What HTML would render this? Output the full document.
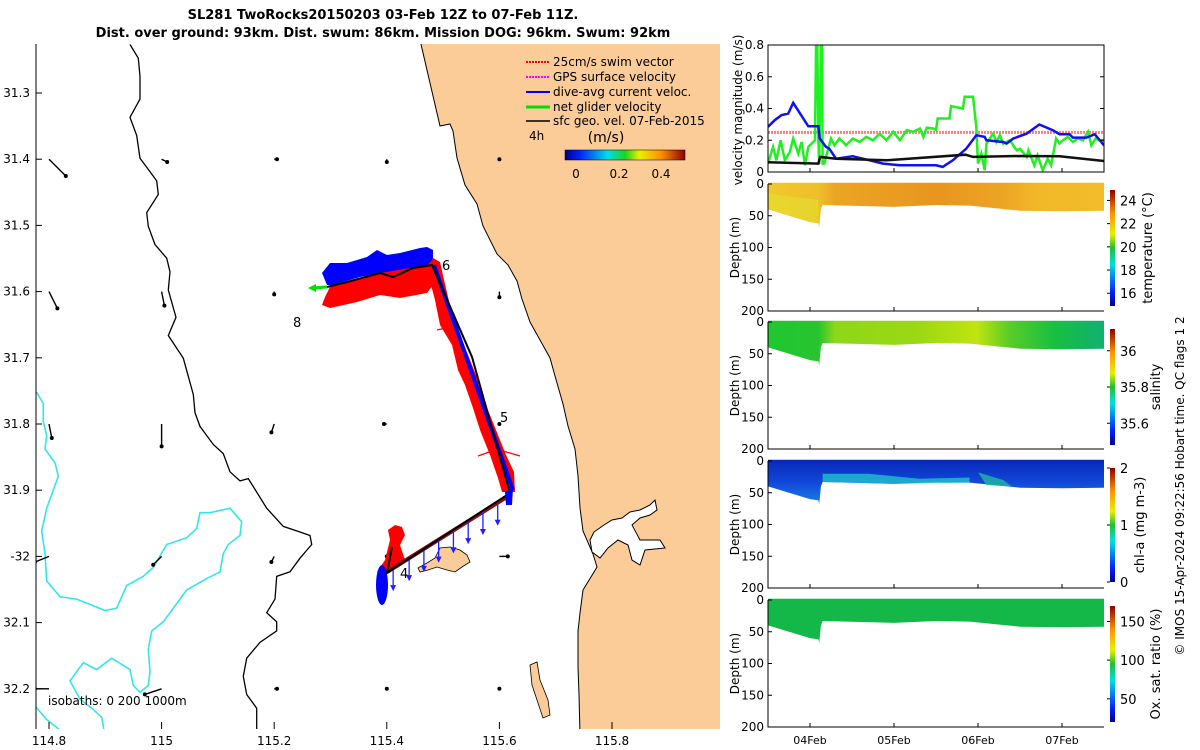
<!DOCTYPE html>
<html><head><meta charset="utf-8"><style>
html,body{margin:0;padding:0;background:#fff;}
svg{display:block;font-family:"DejaVu Sans","Liberation Sans",sans-serif;}
</style></head><body>
<svg id="fig" width="1200" height="750" viewBox="0 0 1200 750" xmlns="http://www.w3.org/2000/svg">
<defs>
<clipPath id="mapclip"><rect x="36" y="44" width="684" height="685"/></clipPath>
<clipPath id="velclip"><rect x="768" y="45" width="336" height="127"/></clipPath>
<linearGradient id="jet" x1="0" x2="1" y1="0" y2="0">
<stop offset="0" stop-color="#00008f"/><stop offset="0.12" stop-color="#0020ff"/><stop offset="0.36" stop-color="#00e0e0"/><stop offset="0.5" stop-color="#20d020"/><stop offset="0.62" stop-color="#e8f000"/><stop offset="0.8" stop-color="#ff9000"/><stop offset="1" stop-color="#8f0000"/></linearGradient>
<linearGradient id="jetv" x1="0" x2="0" y1="1" y2="0">
<stop offset="0" stop-color="#00008f"/><stop offset="0.12" stop-color="#0020ff"/><stop offset="0.36" stop-color="#00e0e0"/><stop offset="0.5" stop-color="#20c030"/><stop offset="0.62" stop-color="#e8f000"/><stop offset="0.8" stop-color="#ff9000"/><stop offset="1" stop-color="#8f0000"/></linearGradient>
<linearGradient id="gTemp" x1="0" x2="1" y1="0" y2="0"><stop offset="0" stop-color="#f0c82c"/><stop offset="0.15" stop-color="#eec02a"/><stop offset="0.2" stop-color="#eca424"/><stop offset="0.5" stop-color="#e8961e"/><stop offset="0.7" stop-color="#eca424"/><stop offset="0.8" stop-color="#f2b828"/><stop offset="1" stop-color="#f2bc2a"/></linearGradient>
<linearGradient id="gSal" x1="0" x2="1" y1="0" y2="0"><stop offset="0" stop-color="#20c830"/><stop offset="0.15" stop-color="#28c430"/><stop offset="0.2" stop-color="#8cd818"/><stop offset="0.45" stop-color="#9cd814"/><stop offset="0.62" stop-color="#c0e410"/><stop offset="0.72" stop-color="#58cc28"/><stop offset="0.85" stop-color="#18c040"/><stop offset="1" stop-color="#10b070"/></linearGradient>
<linearGradient id="gChl" x1="0" x2="0" y1="0" y2="1"><stop offset="0" stop-color="#0828b8"/><stop offset="0.5" stop-color="#1048d8"/><stop offset="1" stop-color="#1880e8"/></linearGradient>
</defs>
<rect x="0" y="0" width="1200" height="750" fill="#fff"/>
<text x="383" y="19" text-anchor="middle" font-size="13" font-weight="bold">SL281 TwoRocks20150203 03-Feb 12Z to 07-Feb 11Z.</text>
<text x="383" y="37" text-anchor="middle" font-size="13" font-weight="bold">Dist. over ground: 93km. Dist. swum: 86km. Mission DOG: 96km. Swum: 92km</text>

<g id="map" clip-path="url(#mapclip)">
<polygon fill="#fbcb98" stroke="#000" stroke-width="1" points="420,40 440,126 450,124 453,131 457,158 465,185 477,204 483,226 497,254 508,265 517,281 522,299 530,322 540,340 550,358 555,376 563,404 568,426 575,449 578,476 580,508 583,531 593,554 597,567 583,590 580,613 578,631 578,667 579,695 580,735 725,735 725,40"/>
<polygon fill="#fff" stroke="#000" stroke-width="1" points="594,532 604,525 612,520 622,518 630,512 640,510 650,505 655,500 657,510 650,515 640,518 632,525 640,540 660,540 665,548 645,550 640,565 632,560 628,545 618,540 608,548 600,558 592,552 590,540"/>
<polygon fill="#fbcb98" stroke="#000" stroke-width="0.8" points="418,568 427,563 435,558 440,548 450,547 460,550 467,555 470,562 462,567 455,572 447,570 437,567 428,570 420,572"/>
<polygon fill="#fbcb98" stroke="#000" stroke-width="0.8" points="530,665 537,662 540,680 548,700 550,715 543,718 537,700 532,685"/>
<polyline id="iso200" fill="none" stroke="#000" stroke-width="1.3"/>
<polyline id="iso1000a" fill="none" stroke="#33e6e6" stroke-width="1.6"/>
<polyline id="iso1000b" fill="none" stroke="#33e6e6" stroke-width="1.6"/>
<g id="quiver"></g>
<polygon fill="#0000ff" points="322,273 330,263 347,263 367,257 377,250 387,255 400,253 420,248 427,247 433,250 433,265 413,268 393,275 380,273 360,277 333,285 327,285"/>
<polygon fill="#ff0000" points="330,287 380,273 427,265 433,260 437,280 427,293 400,298 380,295 357,302 330,308 322,305 325,297"/>
<polygon fill="#ff0000" points="433,258 427,270 435,300 440,325 452,345 458,370 465,385 473,408 480,430 490,455 498,478 502,492 515,492 514,472 506,455 498,435 488,410 480,385 470,360 460,335 450,305 444,280 440,262"/>
<line x1="450" y1="327" x2="437" y2="330" stroke="#ff0000" stroke-width="1.2"/>
<line x1="495" y1="450" x2="478" y2="456" stroke="#ff0000" stroke-width="1.2"/>
<line x1="500" y1="450" x2="520" y2="456" stroke="#ff0000" stroke-width="1.2"/>
<polygon fill="#ff0000" points="377,572 385,560 390,540 388,530 395,525 402,527 405,535 400,545 405,560 395,565 388,572"/>
<ellipse cx="382" cy="585" rx="6" ry="20" fill="#0000ff"/>
<line x1="387" y1="572" x2="510" y2="495" stroke="#8b1010" stroke-width="4"/>
<g id="blueArrows"></g>
<line x1="434" y1="265" x2="513" y2="490" stroke="#0000ff" stroke-width="4"/>
<polyline fill="none" stroke="#000" stroke-width="2" points="327,287 347,282 380,273 393,277 413,268 432,265 472,357 510,493 387,573 392,547"/>
<polygon fill="#0000ff" points="505,492 513,488 512,505 506,505"/>
<line x1="327" y1="287" x2="312" y2="288" stroke="#00e000" stroke-width="3"/>
<polygon fill="#00e000" points="308,288 316,284 316,292"/>
<text x="442" y="270" font-size="13">6</text>
<text x="500" y="422" font-size="13">5</text>
<text x="400" y="578" font-size="13">4</text>
<text x="293" y="327" font-size="13">8</text>
<text x="48" y="705" font-size="12">isobaths: 0   200  1000m</text>
</g>
<g font-size="12">
<g><line x1="526" y1="62" x2="550" y2="62" stroke="#ff0000" stroke-width="2" stroke-dasharray="2,1"/><text x="553" y="66">25cm/s swim vector</text></g>
<g><line x1="526" y1="77" x2="550" y2="77" stroke="#ff00ff" stroke-width="2" stroke-dasharray="2,1"/><text x="553" y="81">GPS surface velocity</text></g>
<g><line x1="526" y1="92" x2="550" y2="92" stroke="#0000ff" stroke-width="2"/><text x="553" y="96">dive-avg current veloc.</text></g>
<g><line x1="526" y1="107" x2="550" y2="107" stroke="#00e000" stroke-width="3"/><text x="553" y="111">net glider velocity</text></g>
<g><line x1="526" y1="121" x2="550" y2="121" stroke="#000" stroke-width="1.5"/><text x="553" y="125">sfc geo. vel. 07-Feb-2015</text></g>
<text x="529" y="140">4h</text>
<text x="606" y="142" text-anchor="middle" font-size="14">(m/s)</text>
<rect x="565" y="150" width="120" height="10" fill="url(#jet)" stroke="#000" stroke-width="0.5"/>
<text x="576" y="178" text-anchor="middle">0</text>
<text x="619" y="178" text-anchor="middle">0.2</text>
<text x="661" y="178" text-anchor="middle">0.4</text>
</g>
<line x1="36" y1="44" x2="36" y2="729" stroke="#000"/>
<g id="mapTicks" font-size="12"></g>

<g id="velPanel">
<line id="swimLine" x1="768" x2="1104" stroke="#ff6060" stroke-width="3" stroke-dasharray="2,1" opacity="0.8"/>
<g clip-path="url(#velclip)">
<polyline id="greenLine" fill="none" stroke="#20f020" stroke-width="2.5"/>
<polyline id="blueLine" fill="none" stroke="#1010f0" stroke-width="2.5"/>
<polyline id="blackLine" fill="none" stroke="#111" stroke-width="2.5"/>
</g>
<rect x="768" y="45" width="336" height="127" fill="none" stroke="#000"/>
<text transform="translate(742,110) rotate(-90)" text-anchor="middle" font-size="12">velocity magnitude (m/s)</text>
</g>
<g id="sections"></g>
<g id="rightTicks" font-size="12"></g>
<text transform="translate(1184,486) rotate(-90)" text-anchor="middle" font-size="12">© IMOS 15-Apr-2024 09:22:56 Hobart time. QC flags 1  2</text>
</svg>
<script>
const iso200 = [[300,10],[325,40],[330,80],[330,130],[300,170],[320,210],[330,260],[350,280],[380,310],[385,340],[350,380],[355,410],[375,450],[410,480],[420,510],[415,550],[438,610],[415,650],[460,700],[490,780],[495,820],[510,850],[550,890],[580,910],[600,950],[630,970],[655,965],[710,1030],[760,1070],[800,1080],[840,1090],[845,1110],[810,1140],[780,1170],[740,1180],[735,1230],[710,1260],[740,1280],[740,1300],[690,1325],[650,1360],[640,1400],[650,1440],[680,1470],[680,1530]];
const iso1000a = [[20,775],[40,800],[40,840],[50,870],[45,900],[75,930],[85,960],[70,990],[50,1030],[35,1080],[45,1130],[50,1190],[90,1225],[140,1230],[225,1255],[260,1250],[290,1200],[340,1180],[370,1160],[410,1110],[470,1095],[500,1075],[510,1040],[540,1040],[600,1030],[635,1060],[630,1090],[595,1110],[580,1130],[570,1170],[530,1185],[470,1210],[440,1240],[400,1280],[365,1300],[355,1340],[360,1390],[355,1420],[330,1435],[310,1420],[300,1385],[245,1360],[200,1385],[160,1370],[120,1410],[150,1450],[185,1470],[215,1490],[225,1530]];
const iso1000b = [[15,1465],[50,1495],[110,1530]];
const quivLon = [114.8,115.0,115.2,115.4,115.6];
const quivLat = [31.4,31.6,31.8,32.0,32.2];
const quivU = [[0.06,0.02,0.01,0.0,0.0],[0.03,0.01,0.0,0.0,0.0],[0.01,0.0,-0.01,-0.01,0.0],[-0.05,-0.03,-0.01,0.0,0.03],[-0.05,-0.06,0.01,0.0,0.0]];
const quivV = [[0.06,0.01,0.0,0.01,0.0],[0.06,0.05,0.01,0.0,0.02],[0.05,0.08,0.03,0.0,0.0],[0.02,0.03,0.02,0.0,0.0],[0.0,0.02,0.0,0.0,0.0]];
const lonTicks = [114.8,115,115.2,115.4,115.6,115.8];
const latTicks = [31.3,31.4,31.5,31.6,31.7,31.8,31.9,32,32.1,32.2];
const latLabels = ['31.3','31.4','31.5','31.6','31.7','31.8','31.9','-32','32.1','32.2'];
const blueArrowFrac = [0.05,0.18,0.3,0.42,0.54,0.66,0.78,0.9];
const swimSpeed = [0.25];
const blueT=[0,0.08,0.16,0.24,0.3,0.48,0.6,0.615,0.69,0.73,0.81,1.01,1.13,1.37,1.57,2.0,2.08,2.2,2.36,2.48,2.58,2.6,2.8,2.84,2.92,3.08,3.23,3.39,3.47,3.59,3.63,3.79,3.89,4.0];
const blueV=[0.285,0.326,0.358,0.368,0.436,0.288,0.288,0.211,0.158,0.147,0.084,0.099,0.084,0.053,0.042,0.042,0.032,0.074,0.147,0.232,0.221,0.200,0.189,0.179,0.211,0.242,0.299,0.263,0.238,0.238,0.217,0.217,0.238,0.168];
const blackT=[0,0.6,0.62,0.81,1.41,2.35,2.44,3.0,3.47,4.0];
const blackV=[0.061,0.053,0.095,0.084,0.074,0.109,0.095,0.101,0.099,0.069];
const greenT=[0,0.06,0.1,0.15,0.2,0.26,0.3,0.36,0.4,0.44,0.48,0.56,0.58,0.6,0.61,0.64,0.65,0.67,0.75,0.79,0.85,0.93,1.01,1.09,1.17,1.25,1.33,1.41,1.49,1.57,1.65,1.73,1.81,1.85,1.89,1.97,2.0,2.02,2.16,2.18,2.32,2.34,2.44,2.48,2.5,2.54,2.58,2.6,2.68,2.72,2.76,2.8,2.88,2.96,3.0,3.08,3.1,3.17,3.21,3.27,3.33,3.37,3.43,3.47,3.51,3.57,3.63,3.69,3.75,3.81,3.85,3.9,3.94,4.0];
const greenV=[0.053,0.158,0.074,0.2,0.074,0.126,0.211,0.116,0.189,0.042,0.158,0.2,1.2,0.2,0.053,1.2,0.053,0.053,0.211,0.168,0.211,0.168,0.211,0.189,0.221,0.2,0.242,0.2,0.253,0.2,0.263,0.253,0.274,0.221,0.279,0.274,0.263,0.337,0.337,0.415,0.4,0.474,0.474,0.284,0.053,0.116,0.011,0.179,0.242,0.189,0.232,0.179,0.2,0.137,0.147,0.095,0.137,0.042,0.105,0.011,0.084,0.042,0.211,0.179,0.2,0.221,0.189,0.211,0.2,0.253,0.168,0.211,0.2,0.2];
const secT=[0,0.5,0.6,0.61,0.63,0.65,1.5,2.0,2.4,3.0,3.5,4.0];
const secDepth=[40,60,62,68,40,33,36,33,34,42,43,42];
const tempTicks=[16,18,20,22,24];
const salTicks=[35.6,35.8,36];
const chlTicks=[0,1,2];
const oxTicks=[50,100,150];
const dateLabels=['04Feb','05Feb','06Feb','07Feb'];
const dateT=[0.5,1.5,2.5,3.5];

const NS='http://www.w3.org/2000/svg';
function mk(tag,attrs,parent){const e=document.createElementNS(NS,tag);for(const k in attrs)e.setAttribute(k,attrs[k]);parent.appendChild(e);return e;}
function mapX(lon){return 49+(lon-114.8)*563;}
function mapY(lat){return 93+(lat-31.3)*662;}
function zpts(a){return a.map(p=>(30+p[0]/3).toFixed(1)+','+(40+p[1]/2.2).toFixed(1)).join(' ');}
document.getElementById('iso200').setAttribute('points',zpts(iso200));
document.getElementById('iso1000a').setAttribute('points',zpts(iso1000a));
document.getElementById('iso1000b').setAttribute('points',zpts(iso1000b));
const q=document.getElementById('quiver');
quivLat.forEach((la,i)=>quivLon.forEach((lo,j)=>{
  const x=mapX(lo),y=mapY(la),dx=quivU[i][j]*280,dy=quivV[i][j]*280;
  const l=mk('line',{x1:x,y1:y,x2:x+dx,y2:y+dy,stroke:'#000','stroke-width':1.4},q);
  
  
  const d=mk('circle',{cx:x+dx,cy:y+dy,r:2,fill:'#000'},q);
  
  
}));
const ba=document.getElementById('blueArrows');
blueArrowFrac.forEach(f=>{
  const x=387+(510-387)*f,y=572+(495-572)*f;
  const l=mk('line',{x1:x,y1:y,x2:x,y2:y+22,stroke:'#2020ff','stroke-width':1.3},ba);
  
  
  const h=mk('polygon',{points:`${x-3},${y+17} ${x+3},${y+17} ${x},${y+23}`,fill:'#2020ff'},ba);
  
  
});
const mt=document.getElementById('mapTicks');
lonTicks.forEach(v=>{const x=mapX(v);
  const t=mk('line',{x1:x,y1:729,x2:x,y2:722,stroke:'#000'},mt);
  
  
  const tx=mk('text',{x:x,y:745,'text-anchor':'middle'},mt);tx.textContent=String(v);
  
  });
latTicks.forEach((v,i)=>{const y=mapY(v);
  const t=mk('line',{x1:36,y1:y,x2:42,y2:y,stroke:'#000'},mt);
  
  
  const tx=mk('text',{x:30,y:y+4,'text-anchor':'end'},mt);tx.textContent=latLabels[i];
  
  });
function tx(t){return 768+t*84;}
function vy(v){return 172-v*158.75;}
function pl(T,V){return T.map((t,i)=>tx(t).toFixed(1)+','+vy(V[i]).toFixed(1)).join(' ');}
const sl=document.getElementById('swimLine');sl.setAttribute('y1',vy(swimSpeed[0]));sl.setAttribute('y2',vy(swimSpeed[0]));
document.getElementById('greenLine').setAttribute('points',pl(greenT,greenV));
document.getElementById('blueLine').setAttribute('points',pl(blueT,blueV));
document.getElementById('blackLine').setAttribute('points',pl(blackT,blackV));
const rt=document.getElementById('rightTicks');
[0,0.2,0.4,0.6,0.8].forEach(v=>{const y=vy(v);
  const a=mk('line',{x1:768,y1:y,x2:772,y2:y,stroke:'#000'},rt);
  
  
  const b=mk('line',{x1:1100,y1:y,x2:1104,y2:y,stroke:'#000'},rt);
  
  
  const t=mk('text',{x:764,y:y+4,'text-anchor':'end'},rt);t.textContent=String(v);
  
  });
dateT.forEach(t=>{const x=tx(t);
  const a=mk('line',{x1:x,y1:172,x2:x,y2:168,stroke:'#000'},rt);
  
  });
const sec=document.getElementById('sections');
const panels=[
 {name:'temperature',top:184,fill:'url(#gTemp)',cb:[190,306],lo:14.9,hi:24.9,ticks:tempTicks,label:'temperature (°C)',lx:1152},
 {name:'salinity',top:322,fill:'url(#gSal)',cb:[329,445],lo:35.48,hi:36.12,ticks:salTicks,label:'salinity',lx:1160},
 {name:'chl-a',top:461,fill:'url(#gChl)',cb:[468,582],lo:0,hi:2,ticks:chlTicks,label:'chl-a (mg m-3)',lx:1144},
 {name:'oxygen',top:600,fill:'#14b848',cb:[606,722],lo:20,hi:170,ticks:oxTicks,label:'Ox. sat. ratio (%)',lx:1160}];
panels.forEach((p,pi)=>{
  const dy=d=>p.top+d*127/200;
  let pts=tx(0)+','+dy(-2);
  secT.forEach((t,i)=>{pts+=' '+tx(t).toFixed(1)+','+dy(secDepth[i]).toFixed(1);});
  pts+=' '+tx(4)+','+dy(-2);
  const poly=mk('polygon',{points:pts,fill:p.fill},sec);
  
  
  if(p.name==='temperature'){
    const o=mk('polygon',{points:`${tx(0)},${dy(15)} ${tx(0.6)},${dy(25)} ${tx(0.6)},${dy(62)} ${tx(0.5)},${dy(60)} ${tx(0)},${dy(40)}`,fill:'#e4e030',opacity:0.6},sec);
    
    }
  if(p.name==='chl-a'){
    const o=mk('polygon',{points:`${tx(0.65)},${dy(20)} ${tx(1.2)},${dy(20)} ${tx(1.8)},${dy(28)} ${tx(2.4)},${dy(26)} ${tx(2.4)},${dy(34)} ${tx(1.5)},${dy(36)} ${tx(0.65)},${dy(33)}`,fill:'#20c0d0',opacity:0.8},sec);
    
    
    const o2=mk('polygon',{points:`${tx(2.5)},${dy(18)} ${tx(2.8)},${dy(30)} ${tx(2.9)},${dy(40)} ${tx(2.6)},${dy(38)}`,fill:'#20b8a0',opacity:0.8},sec);
    
    }
  const ax=mk('polyline',{points:`768,${p.top} 768,${dy(200)} 1104,${dy(200)}`,fill:'none',stroke:'#000'},sec);
  
  
  [0,50,100,150,200].forEach(d=>{
    const t=mk('line',{x1:768,y1:dy(d),x2:772,y2:dy(d),stroke:'#000'},rt);
    
    
    const l=mk('text',{x:764,y:dy(d)+4,'text-anchor':'end'},rt);l.textContent=String(d);
    
    });
  dateT.forEach(t=>{const x=tx(t);
    const a=mk('line',{x1:x,y1:dy(200),x2:x,y2:dy(200)-4,stroke:'#000'},rt);
    
    });
  const yl=mk('text',{transform:`translate(739,${dy(100)}) rotate(-90)`,'text-anchor':'middle','font-size':12},rt);yl.textContent='Depth (m)';
  
  
  const cb=mk('rect',{x:1110,y:p.cb[0],width:5,height:p.cb[1]-p.cb[0],fill:'url(#jetv)'},sec);
  
  
  p.ticks.forEach(v=>{const y=p.cb[1]-(v-p.lo)/(p.hi-p.lo)*(p.cb[1]-p.cb[0]);
    const t=mk('line',{x1:1107,y1:y,x2:1110,y2:y,stroke:'#000'},rt);
    
    
    const l=mk('text',{x:1120,y:y+5,'font-size':13},rt);l.textContent=String(v);
    
    });
  const cl=mk('text',{transform:`translate(${p.lx},${(p.cb[0]+p.cb[1])/2}) rotate(-90)`,'text-anchor':'middle','font-size':13},rt);cl.textContent=p.label;
  
  
});
dateT.forEach((t,i)=>{const l=mk('text',{x:tx(t),y:744,'text-anchor':'middle','font-size':11},rt);l.textContent=dateLabels[i];
  
  });
</script>
</body></html>
